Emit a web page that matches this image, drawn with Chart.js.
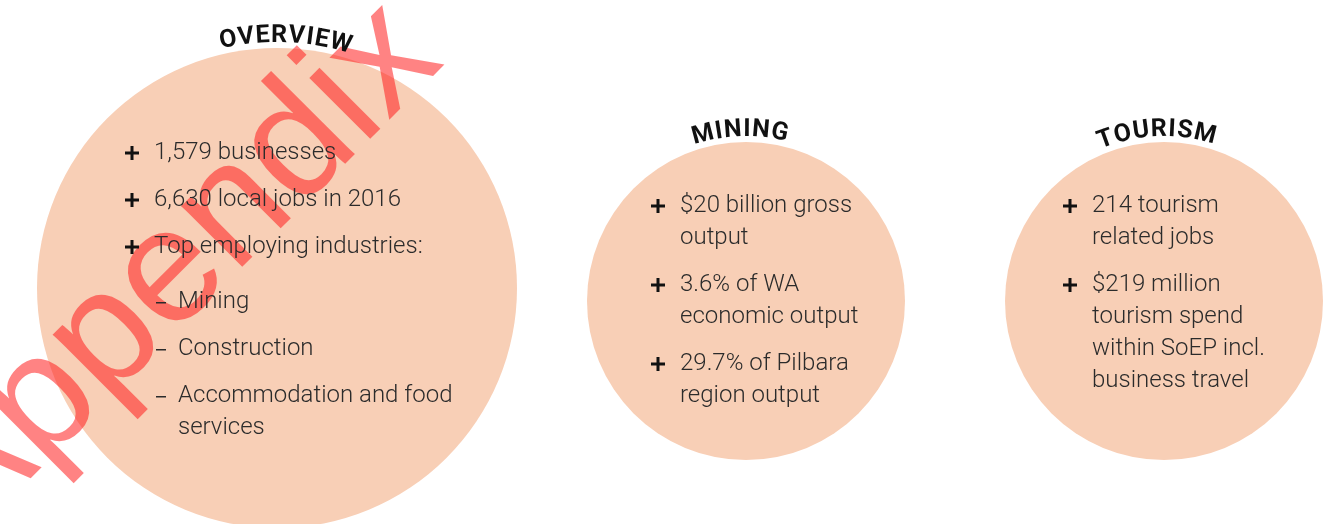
<!DOCTYPE html>
<html>
<head>
<meta charset="utf-8">
<title>SoEP economy overview</title>
<script src="https://cdn.jsdelivr.net/npm/chart.js"></script>
<style>
  html, body { margin: 0; padding: 0; background: #fff; }
  canvas { display: block; }
</style>
</head>
<body>
<canvas id="overviewChart" width="1331" height="524"></canvas>
<script>
/* --- Data --- */
const sections = ['OVERVIEW', 'MINING', 'TOURISM'];
const bubbleX = [2.77, 7.46, 11.64];     // chart units (x axis 0..13.31)
const bubbleY = [2.88, 3.01, 3.01];      // chart units (y axis 0..5.24, top down)
const bubbleSize = [2.40, 1.59, 1.59];   // radius in x-axis units

const overviewBullets = ['1,579 businesses', '6,630 local jobs in 2016', 'Top employing industries:'];
const overviewIndustries = ['Mining', 'Construction', 'Accommodation and food\nservices'];
const miningBullets = ['$20 billion gross\noutput', '3.6% of WA\neconomic output', '29.7% of Pilbara\nregion output'];
const tourismBullets = ['214 tourism\nrelated jobs', '$219 million\ntourism spend\nwithin SoEP incl.\nbusiness travel'];
const watermark = 'Appendix';

/* --- Layout / styles --- */
const X_MAX = 13.31;
const Y_MAX = 5.24;
const PEACH = '#f8cfb6';
const TEXT = '#2b2b2b';
const LINE_H = 32;
const ITEM_GAP = 15;
const BODY_FONT = '300 24px Roboto, "Open Sans", sans-serif';
const TITLE_FONT = 'bold 25px Roboto, "DejaVu Sans", sans-serif';

const blocks = [
  { bullets: overviewBullets, subs: overviewIndustries, top: -135, plusX: -145, textX: -123, dashX: -121, subX: -99, titleShift: 2 },
  { bullets: miningBullets, subs: [], top: -95, plusX: -88, textX: -66, titleShift: -2 },
  { bullets: tourismBullets, subs: [], top: -95, plusX: -94, textX: -72, titleShift: -2.5 }
];

function drawArcText(ctx, text, cx, cy, R, centerDeg, spacing) {
  ctx.save();
  ctx.font = TITLE_FONT;
  ctx.fillStyle = '#111';
  ctx.textAlign = 'center';
  ctx.textBaseline = 'alphabetic';
  const widths = [...text].map(ch => ctx.measureText(ch).width);
  const total = widths.reduce((a, b) => a + b, 0) + spacing * (text.length - 1);
  let a = centerDeg * Math.PI / 180 - total / (2 * R);
  [...text].forEach((ch, i) => {
    const mid = a + (widths[i] / 2) / R;
    ctx.save();
    ctx.translate(cx + R * Math.sin(mid), cy - R * Math.cos(mid));
    ctx.rotate(mid);
    ctx.fillText(ch, 0, 0);
    ctx.restore();
    a += (widths[i] + spacing) / R;
  });
  ctx.restore();
}

function drawPlus(ctx, x, y) {
  ctx.fillStyle = '#111';
  ctx.fillRect(x - 7, y - 1.5, 14, 3);
  ctx.fillRect(x - 1.5, y - 7, 3, 14);
}

function drawBlock(ctx, cx, cy, b) {
  ctx.save();
  ctx.font = BODY_FONT;
  ctx.textBaseline = 'middle';
  ctx.textAlign = 'left';
  let y = cy + b.top;
  b.bullets.forEach(item => {
    drawPlus(ctx, cx + b.plusX, y);
    ctx.fillStyle = TEXT;
    item.split('\n').forEach(line => {
      ctx.fillText(line, cx + b.textX, y);
      y += LINE_H;
    });
    y += ITEM_GAP;
  });
  if (b.subs.length) y += 8;
  b.subs.forEach(item => {
    ctx.fillStyle = TEXT;
    ctx.fillRect(cx + b.dashX, y, 10, 1.5);
    item.split('\n').forEach(line => {
      ctx.fillText(line, cx + b.subX, y);
      y += LINE_H;
    });
    y += ITEM_GAP;
  });
  ctx.restore();
}

const infographicText = {
  id: 'infographicText',
  afterDatasetsDraw(chart) {
    const ctx = chart.ctx;
    // Watermark sits over the circles but under the text
    ctx.save();
    ctx.translate(-35, 544);
    ctx.rotate(-Math.PI / 4);
    ctx.font = '163px "Liberation Sans", Arial, sans-serif';
    ctx.fillStyle = 'rgba(255, 30, 30, 0.55)';
    ctx.textBaseline = 'alphabetic';
    ctx.fillText(watermark, 0, 0);
    ctx.restore();

    const meta = chart.getDatasetMeta(0);
    meta.data.forEach((el, i) => {
      const r = el.options.radius;
      drawArcText(ctx, sections[i], el.x, el.y, r + 6, blocks[i].titleShift, 1);
      drawBlock(ctx, el.x, el.y, blocks[i]);
    });
  }
};

const canvas = document.getElementById('overviewChart');
const pxPerUnit = canvas.width / X_MAX;   // bubble r is in pixels, so convert the size units

new Chart(canvas, {
  type: 'bubble',
  data: {
    datasets: [{
      label: 'Sections',
      data: sections.map((s, i) => ({ x: bubbleX[i], y: bubbleY[i], r: bubbleSize[i] * pxPerUnit })),
      backgroundColor: PEACH,
      hoverBackgroundColor: PEACH,
      borderWidth: 0,
      hoverBorderWidth: 0,
      clip: false
    }]
  },
  options: {
    responsive: false,
    animation: false,
    events: [],
    layout: { padding: 0, autoPadding: false },
    plugins: { legend: { display: false }, tooltip: { enabled: false } },
    scales: {
      x: { type: 'linear', min: 0, max: X_MAX, display: false },
      y: { type: 'linear', min: 0, max: Y_MAX, reverse: true, display: false }
    }
  },
  plugins: [infographicText]
});
</script>
</body>
</html>
